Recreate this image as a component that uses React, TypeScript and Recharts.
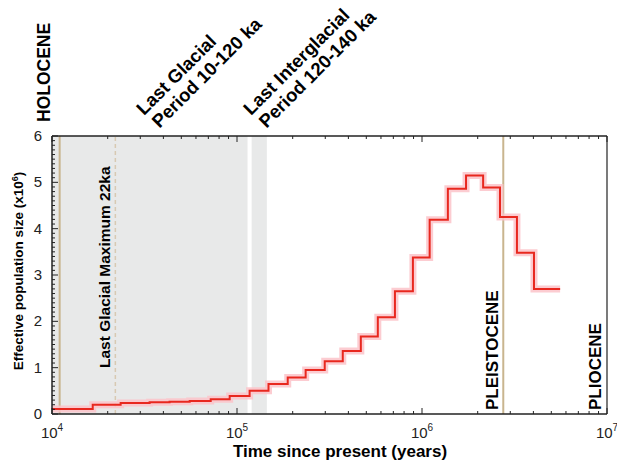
import React from 'react';
import {
  LineChart,
  Line,
  XAxis,
  YAxis,
  ReferenceArea,
  ReferenceLine,
} from 'recharts';

// PSMC-style step curve: start time of each step (years) and Ne (x10^6)
const stepTimes = [
  1.0e4, 1.66e4, 2.35e4, 3.37e4, 4.32e4, 5.55e4, 7.21e4, 9.13e4, 1.17e5, 1.48e5,
  1.88e5, 2.35e5, 2.98e5, 3.73e5, 4.67e5, 5.77e5, 7.14e5, 8.93e5, 1.1e6, 1.38e6,
  1.73e6, 2.14e6, 2.64e6, 3.26e6, 4.03e6, 5.58e6,
];
const stepNe = [
  0.11, 0.2, 0.24, 0.255, 0.265, 0.28, 0.32, 0.39, 0.5, 0.65,
  0.79, 0.95, 1.14, 1.36, 1.67, 2.09, 2.65, 3.38, 4.19, 4.86,
  5.15, 4.89, 4.25, 3.48, 2.7, 2.7,
];

// shaded periods (years)
const lastGlacial = [1.0e4, 1.14e5];
const lastInterglacial = [1.2e5, 1.45e5];

// boundaries
const holoceneStart = 1.1e4;
const lgmTime = 2.2e4;
const pleistoceneStart = 2.75e6;

const xMajor = [1e4, 1e5, 1e6, 1e7];
const xMinorMult = [2, 3, 4, 5, 6, 7, 8, 9];
const yMajor = [0, 1, 2, 3, 4, 5, 6];

const xTicks = [
  ...xMajor,
  ...xMajor.slice(0, 3).flatMap((d) => xMinorMult.map((m) => m * d)),
];
const yTicks = Array.from({ length: 61 }, (_, i) => i / 10);

const chartData = stepTimes.map((t, i) => ({ t, ne: stepNe[i] }));

const FONT = '"Liberation Sans", Arial, Helvetica, sans-serif';
const TAN = '#c9b58f';
const INK = '#222';

const BottomTick = (props: any) => {
  const { x, y, payload } = props;
  const v = payload.value;
  const major = xMajor.includes(v);
  return (
    <g>
      <line x1={x} x2={x} y1={y} y2={y - (major ? 6 : 3)} stroke={INK} strokeWidth={1} />
      {major && (
        <text x={x} y={y + 24} textAnchor="middle" fontSize={15} fill={INK} fontFamily={FONT}>
          10
          <tspan dy={-7} fontSize={10}>{Math.round(Math.log10(v))}</tspan>
        </text>
      )}
    </g>
  );
};

const TopTick = (props: any) => {
  const { x, y, payload } = props;
  const major = xMajor.includes(payload.value);
  return <line x1={x} x2={x} y1={y} y2={y + (major ? 6 : 3)} stroke={INK} strokeWidth={1} />;
};

const LeftTick = (props: any) => {
  const { x, y, payload } = props;
  const v = payload.value;
  const major = yMajor.some((m) => Math.abs(m - v) < 1e-6);
  return (
    <g>
      <line x1={x} x2={x + (major ? 6 : 3)} y1={y} y2={y} stroke={INK} strokeWidth={1} />
      {major && (
        <text x={x - 10} y={y + 5} textAnchor="end" fontSize={15} fill={INK} fontFamily={FONT}>
          {Math.round(v)}
        </text>
      )}
    </g>
  );
};

export default function App() {
  return (
    <div style={{ position: 'absolute', left: 0, top: 0, width: 617, height: 460, background: '#fff' }}>
      <LineChart
        width={617}
        height={460}
        data={chartData}
        margin={{ top: 135, right: 9, bottom: 45, left: 51 }}
      >
        <ReferenceArea x1={lastGlacial[0]} x2={lastGlacial[1]} y1={0} y2={6} fill="#e8e9e9" fillOpacity={1} stroke="none" />
        <ReferenceArea x1={lastInterglacial[0]} x2={lastInterglacial[1]} y1={0} y2={6} fill="#e8e9e9" fillOpacity={1} stroke="none" />
        <XAxis
          dataKey="t"
          type="number"
          scale="log"
          domain={[1e4, 1e7]}
          allowDataOverflow
          ticks={xTicks}
          interval={0}
          height={1}
          tickSize={0}
          tickMargin={0}
          tickLine={false}
          tick={<BottomTick />}
          axisLine={{ stroke: INK, strokeWidth: 1.5 }}
        />
        <XAxis
          xAxisId="top"
          orientation="top"
          dataKey="t"
          type="number"
          scale="log"
          domain={[1e4, 1e7]}
          allowDataOverflow
          ticks={xTicks}
          interval={0}
          height={1}
          tickSize={0}
          tickMargin={0}
          tickLine={false}
          tick={<TopTick />}
          axisLine={{ stroke: INK, strokeWidth: 1.5 }}
        />
        <YAxis
          type="number"
          domain={[0, 6]}
          ticks={yTicks}
          interval={0}
          width={1}
          tickSize={0}
          tickMargin={0}
          tickLine={false}
          tick={<LeftTick />}
          axisLine={{ stroke: INK, strokeWidth: 1.5 }}
        />
        <YAxis
          yAxisId="right"
          orientation="right"
          type="number"
          domain={[0, 6]}
          width={1}
          tick={false}
          tickLine={false}
          axisLine={{ stroke: INK, strokeWidth: 1.2 }}
        />
        <ReferenceLine x={holoceneStart} stroke={TAN} strokeWidth={2} />
        <ReferenceLine x={lgmTime} stroke="#d8c9b2" strokeWidth={1.5} strokeDasharray="4 3" />
        <ReferenceLine x={pleistoceneStart} stroke={TAN} strokeWidth={2} />
        <Line
          type="stepAfter"
          dataKey="ne"
          stroke="#fbc3c9"
          strokeOpacity={0.85}
          strokeWidth={7}
          dot={false}
          isAnimationActive={false}
        />
        <Line
          type="stepAfter"
          dataKey="ne"
          stroke="#e8281f"
          strokeWidth={2}
          dot={false}
          isAnimationActive={false}
        />
      </LineChart>

      <svg
        width={617}
        height={460}
        style={{ position: 'absolute', left: 0, top: 0, pointerEvents: 'none' }}
        fontFamily={FONT}
        fontWeight="bold"
        fill="#000"
      >
        <text transform="translate(50,122) rotate(-90)" fontSize={17.5}>HOLOCENE</text>
        <text transform="translate(144,116) rotate(-45)" fontSize={18.5}>
          <tspan x={0} y={0}>Last Glacial</tspan>
          <tspan x={2} y={20}>Period 10-120 ka</tspan>
        </text>
        <text transform="translate(251,116) rotate(-45)" fontSize={18.5}>
          <tspan x={0} y={0}>Last Interglacial</tspan>
          <tspan x={2} y={20}>Period 120-140 ka</tspan>
        </text>
        <text transform="translate(110,368) rotate(-90)" fontSize={15.5}>Last Glacial Maximum 22ka</text>
        <text transform="translate(498,410) rotate(-90)" fontSize={17}>PLEISTOCENE</text>
        <text transform="translate(601,410) rotate(-90)" fontSize={17}>PLIOCENE</text>
        <text transform="translate(23,271) rotate(-90)" fontSize={13.5} textAnchor="middle">
          Effective population size (x10
          <tspan dy={-5} fontSize={9}>6</tspan>
          <tspan dy={5}>)</tspan>
        </text>
        <text x={340} y={457} fontSize={17} textAnchor="middle">Time since present (years)</text>
      </svg>
    </div>
  );
}
